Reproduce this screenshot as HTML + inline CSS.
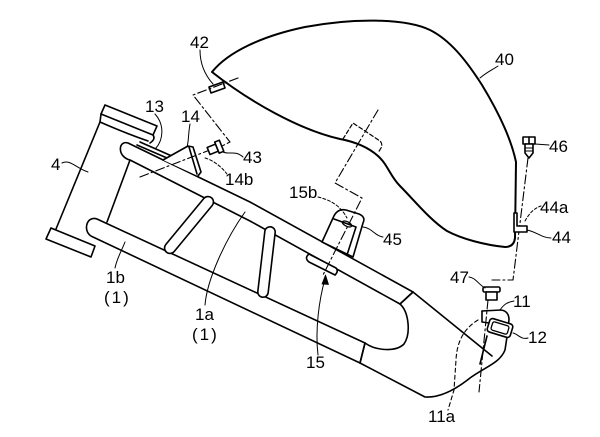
<!DOCTYPE html>
<html><head><meta charset="utf-8"><style>
html,body{margin:0;padding:0;background:#fff;}
svg{display:block;}
text{font-family:"Liberation Sans",sans-serif;font-size:17px;fill:#000;}
</style></head><body>
<svg width="600" height="437" viewBox="0 0 600 437" xmlns="http://www.w3.org/2000/svg">
<rect width="600" height="437" fill="#fff"/>
<g fill="none" stroke="#000" stroke-width="1.6" stroke-linejoin="round" stroke-linecap="round">
<!-- Tank 40 -->
<path d="M212,72 C228,52 262,36 305,27 C352,18 405,18 430,30 C450,40 466,60 482,85 C499,113 511,138 516,162 L515,238 Q514,247 505,247 C485,245 462,239 447,231 C430,220 414,200 400,186 C390,176 388,165 378,156 C368,147 356,142 340,139 C300,130 250,102 212,72 Z" stroke-width="2"/>
<!-- 42 tab -->
<path d="M209,87 L223,82 L225,88 L211,93 Z" fill="#fff"/>
<!-- dashed box on tank -->
<path d="M343,139 L353,123 L380,141 Q383,144 381,148 L378,153" stroke-width="1.2" stroke-dasharray="4,2.5"/>

<!-- Head pipe 4 -->
<path d="M105,105 L157,126 L153,135 L101,114 Z" fill="#fff"/>
<path d="M101,114 L100,122 L56,229"/>
<path d="M100,122 Q125,133 148,141"/>
<path d="M153,135 Q156,139 150,143"/>
<path d="M130,160 L107,222"/>
<path d="M51,228 L95,246 L91,257 L46,239 Z" fill="#fff"/>

<!-- Lower rail 1b -->
<path d="M365,343 L97,219 C86,215 82,233 93,237 L360,363 Z" fill="#fff"/>
<!-- Upper rail 1a -->
<path d="M413,292 L250,202 L128,143 C118,140 117,157 130,160 L250,221 L400,304 Z" fill="#fff"/>

<!-- 13 plate -->
<path d="M137,145 L197,171 M140,142 L199,168 L198,172"/>
<!-- 14 bracket -->
<path d="M163,160 L188,146 L193,147 L201,172 L198,176 M189,147 L197,174" fill="#fff"/>

<!-- cross braces -->
<line x1="208" y1="202" x2="170" y2="248" stroke-width="12.5"/>
<line x1="208" y1="202" x2="170" y2="248" stroke="#fff" stroke-width="9.3"/>
<line x1="270" y1="232" x2="263" y2="292" stroke-width="12"/>
<line x1="270" y1="232" x2="263" y2="292" stroke="#fff" stroke-width="8.8"/>

<!-- 15 plate -->
<path d="M309,254 L336,268 Q339,271 335,275 L309,262 Q304,258 309,254 Z" fill="#fff"/>

<!-- 45 clip -->
<path d="M322,242 L333,218 Q337,208 346,210 L359,214 Q366,217 363,223 L353,257 Z" fill="#fff"/>
<path d="M334,219 L356,227 L347,255"/>
<ellipse cx="347" cy="224" rx="5" ry="2.3" transform="rotate(25 347 224)" stroke-width="1.3"/>

<!-- End piece -->
<path d="M413,292 L492,356"/>
<path d="M413,292 L400,304"/>
<path d="M400,304 C409,312 411,334 404,344 C396,352 376,351 365,343"/>
<path d="M365,343 L360,363"/>
<path d="M360,363 L425,397 C440,398 455,390 470,378 C485,367 500,363 505,350 L508,330"/>
<path d="M487,336 L480,364"/>
<!-- bracket 11 -->
<path d="M482,311 L501,310 Q509,311 509,320 L507,332" fill="#fff"/>
<path d="M482,311 L482,322 L489,323"/>
<!-- 12 -->
<g transform="translate(500,328) rotate(17)">
<rect x="-12" y="-7" width="24" height="14" rx="3" fill="#fff"/>
<rect x="-8.5" y="-4.3" width="17" height="8.6" rx="2" stroke-width="1.3"/>
</g>
<!-- 11a hidden line -->
<path d="M478,320 C465,328 457,340 456,360 L454,390 L448,410" stroke-width="1.1" stroke-dasharray="4,3"/>

<!-- chain lines -->
<g stroke-width="1.1" stroke-dasharray="9,3,2,3">
<path d="M238,78 L193,95 L230,142 L222,146"/>
<path d="M140,177 L215,148"/>
<path d="M378,110 L335,183 L362,198 L323,275"/>
<path d="M528,158 L513,280 L492,280"/>
<path d="M488,300 L479,392"/>
</g>

<!-- bolts -->
<g transform="translate(216,148) rotate(-22)">
<rect x="-8" y="-3.8" width="9" height="7.6" fill="#fff"/>
<rect x="1" y="-6" width="5" height="12" fill="#fff"/>
</g>
<g>
<rect x="523" y="137" width="12" height="7" fill="#fff"/>
<line x1="529" y1="137" x2="529" y2="144"/>
<path d="M525,144 L533,144 L533,153 L529,158 L525,153 Z" fill="#fff"/>
<path d="M525,148 L533,148 M525,151 L533,151" stroke-width="1"/>
</g>
<rect x="483" y="287" width="17" height="5" rx="1.5" fill="#fff"/>
<rect x="486" y="292" width="11" height="8" fill="#fff"/>
<!-- 44 bracket -->
<path d="M514,213 L517,213 L517,226 L527,226 L527,232 L514,232 Z" fill="#fff"/>

<!-- leaders -->
<g stroke-width="1">
<path d="M200,50 C200,63 204,74 213,84"/>
<path d="M480,78 C487,72 492,70 498,66"/>
<path d="M155,114 C165,125 163,140 156,148"/>
<path d="M190,124 C188,135 189,140 187,147"/>
<path d="M62,163 C70,159 76,168 88,172"/>
<path d="M223,152 C230,155 235,150 243,157"/>
<path d="M205,158 C212,160 220,165 227,174" stroke-dasharray="3,2"/>
<path d="M318,197 C330,200 340,205 347,218" stroke-dasharray="3,2"/>
<path d="M363,227 C372,228 375,236 383,237"/>
<path d="M525,221 C530,212 535,208 541,206" stroke-dasharray="3,2"/>
<path d="M527,230 C537,232 542,238 551,238"/>
<path d="M535,144 L549,145"/>
<path d="M469,277 C476,278 478,284 485,288"/>
<path d="M500,310 C504,304 508,302 514,301"/>
<path d="M513,333 C518,334 521,340 528,338"/>
<path d="M318,355 C315,330 319,300 325,279"/>
<path d="M205,305 C207,280 225,240 245,212"/>
<path d="M115,268 C117,258 122,250 125,242"/>
</g>
<path d="M325.5,275 L322,284 L328.5,284.5 Z" fill="#000" stroke-width="0.8"/>
</g>

<!-- labels -->
<text x="190" y="48">42</text>
<text x="495" y="65">40</text>
<text x="145" y="112">13</text>
<text x="181" y="122">14</text>
<text x="51" y="170">4</text>
<text x="243" y="163">43</text>
<text x="225" y="185">14b</text>
<text x="549" y="152">46</text>
<text x="540" y="213">44a</text>
<text x="552" y="243">44</text>
<text x="289" y="198">15b</text>
<text x="383" y="245">45</text>
<text x="450" y="283">47</text>
<text x="513" y="307">11</text>
<text x="528" y="343">12</text>
<text x="306" y="368">15</text>
<text x="428" y="422">11a</text>
<text x="195" y="320">1a</text>
<text x="192" y="340" style="letter-spacing:2px">(1)</text>
<text x="106" y="283">1b</text>
<text x="104" y="303" style="letter-spacing:2px">(1)</text>
</svg>
</body></html>
